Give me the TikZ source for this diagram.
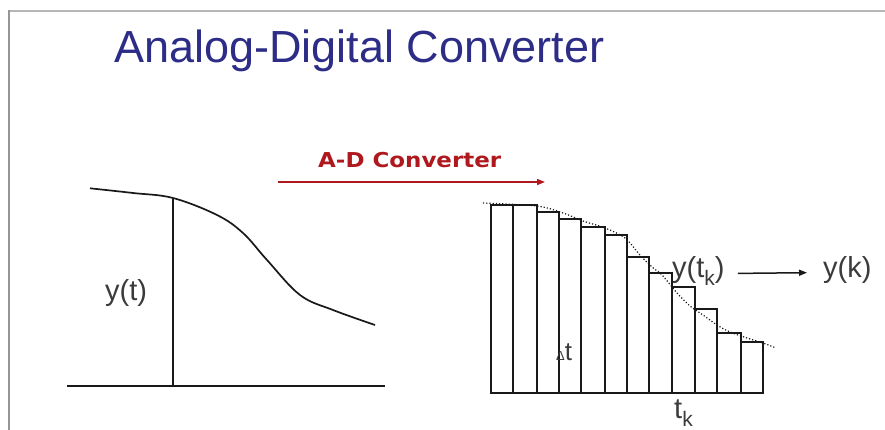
\documentclass[tikz,border=0pt]{standalone}
\usepackage{fontspec}
\setmainfont{Liberation Sans}
\newfontfamily\adfont{DejaVu Sans}
\usetikzlibrary{arrows.meta}
\definecolor{titleblue}{RGB}{45,45,135}
\definecolor{adred}{RGB}{175,25,30}
\definecolor{ink}{RGB}{25,25,25}
\definecolor{framegray}{RGB}{150,150,150}
\newcommand\lowk{\raisebox{-0.28em}{\fontsize{21}{21}\selectfont k}}
\tikzset{
  lab/.style={anchor=base west, inner sep=0pt, text=ink!85, font=\fontsize{29}{29}\selectfont},
  plotline/.style={ink, line width=1.7pt},
  barline/.style={ink, line width=1.7pt},
  dotcurve/.style={ink, line width=1.2pt, dotted},
  tip/.style={-{Triangle[length=8pt,width=6pt]}}
}
\begin{document}
\begin{tikzpicture}[x=1pt,y=-1pt]
\useasboundingbox[fill=white] (0,0) rectangle (885,430);
% frame
\draw[framegray!70, line width=1.5pt] (8,11) -- (885,11);
\draw[framegray, line width=2.5pt] (9,10.5) -- (9,430);
% title
\node[anchor=base west, inner sep=0pt, text=titleblue, font=\fontsize{45}{45}\selectfont] (title) at (114,63) {Analog-Digital Converter};
% A-D converter arrow
\node[anchor=base west, inner sep=0pt, text=adred, font=\adfont\bfseries\fontsize{20.5}{20.5}\selectfont] (adlabel) at (318,168) {\scalebox{1.12}[1]{A-D Converter}};
\coordinate (adfrom) at (278,182);
\coordinate (adto) at (545,182);
\draw[adred, line width=1.5pt, tip] (adfrom) -- (adto);
% left plot
\coordinate (lbase0) at (67,386);
\coordinate (lbase1) at (385,386);
\coordinate (lfoot) at (173.3,386);
\coordinate (ltop) at (173.3,199);
\draw[plotline] (lbase0) -- (lbase1);
\draw[plotline] (lfoot) -- (ltop);
\draw[plotline] plot[smooth, tension=0.6] coordinates {(90,188.3) (133,193) (173,198) (217,215) (243,233) (267,260) (300,295) (333,310) (375,325)};
\node[lab] (yt) at (105,300) {y(t)};
% right plot: sampled bars
\foreach \xa/\xb/\yt in {490.7/512.7/205, 512.7/537.3/205, 537.3/559.3/211.7, 559.3/581/219, 581/605.3/227.3, 605.3/627.3/235, 627.3/649.3/257.3, 649.3/672.3/273.3, 672.3/695.3/287.3, 695.3/717.3/309, 717.3/741.3/333.3, 741.3/763.3/341.7}
  \draw[barline] (\xa,393.3) rectangle (\xb,\yt);
\draw[dotcurve] plot[smooth, tension=0.5] coordinates {(483,203) (537,206) (563,213) (583,221) (605,228) (625,238) (640,255) (652,267) (662,275) (677,293) (690,306) (703,315) (717,325) (730,332) (747,338) (763,343) (776,348)};
\node[lab] (ytk) at (672,277) {y(t\lowk)};
\node[lab] (yk) at (823,277) {y(k)};
\draw[ink, line width=1.5pt, tip, shorten <=13pt, shorten >=16pt] ([yshift=-3pt]ytk.east) -- ([yshift=-3pt]yk.west);
\node[lab, font=\fontsize{26}{26}\selectfont] (dt) at (556,360) {{\fontsize{13}{13}\selectfont Δ}t};
\node[lab, font=\fontsize{29}{29}\selectfont] (tk) at (674,418) {t\lowk};
\end{tikzpicture}
\end{document}
